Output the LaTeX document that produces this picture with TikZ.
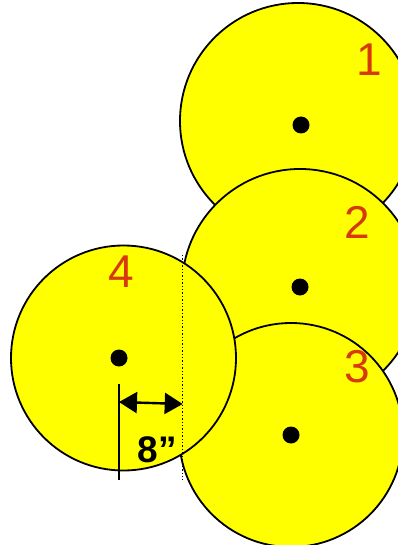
\documentclass[tikz,border=0pt]{standalone}
\usepackage{fontspec}
\setmainfont{Liberation Sans}
\usetikzlibrary{arrows.meta}
\definecolor{numred}{RGB}{214,58,10}
\definecolor{discyellow}{RGB}{255,255,0}
\begin{document}
\begin{tikzpicture}[x=1pt,y=-1pt,
  disc/.style={circle,draw=black,line width=1.8pt,fill=discyellow,inner sep=0pt,minimum size=#1},
  hub/.style={circle,fill=black,inner sep=0pt,minimum size=17pt},
  num/.style={text=numred,font=\fontsize{46}{46}\selectfont,inner sep=0pt,anchor=base},
  dim/.style={font=\fontsize{37}{37}\selectfont\bfseries,inner sep=0pt,anchor=base}]
\useasboundingbox (0,0) rectangle (398,545);
\node[disc=236pt] (c1) at (298,121) {};
\node[disc=236pt] (c2) at (300,287) {};
\node[disc=224pt] (c3) at (291,435) {};
\node[disc=225pt] (c4) at (123.5,358) {};
\node[hub] (d1) at (301,125) {};
\node[hub] (d2) at (300,287) {};
\node[hub] (d3) at (291,435) {};
\node[hub] (d4) at (119,358) {};
\node[num] (n1) at (369,76) {1};
\node[num] (n2) at (357,238) {2};
\node[num] (n3) at (357,382) {3};
\node[num] (n4) at (121,287) {4};
\node[dim] (t8) at (157,462) {8”};
\coordinate (v1) at (119,384);
\coordinate (v2) at (119,480);
\coordinate (p1) at (182.7,255);
\coordinate (p2) at (182.7,480);
\coordinate (a1) at (119,402);
\coordinate (a2) at (182.7,404);
\draw[line width=2.2pt] (v1) -- (v2);
\draw[line width=1.4pt,dotted] (p1) -- (p2);
\draw[line width=2.4pt,{Triangle[length=18pt,width=21pt]}-{Triangle[length=18pt,width=21pt]}] (a1) -- (a2);
\end{tikzpicture}
\end{document}
